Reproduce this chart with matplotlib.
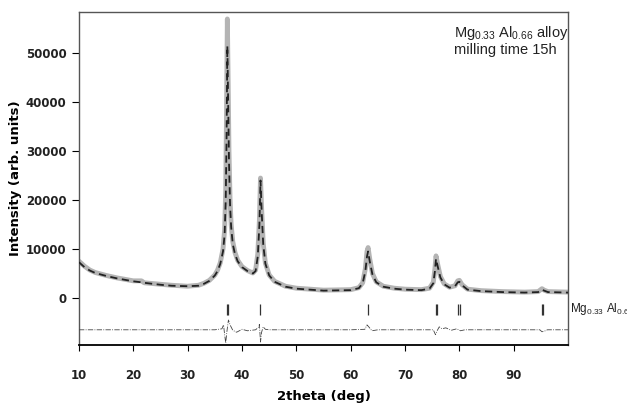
import numpy as np
import matplotlib.pyplot as plt

# ── data ────────────────────────────────────────────────────────────────────
two_theta = [10, 11, 12, 13, 15, 17, 20, 21.5, 22, 25, 27, 30, 32, 33, 34, 35,
             35.5, 36, 36.5, 36.8, 37.0, 37.15, 37.3, 37.45, 37.6, 37.8, 38.0,
             38.3, 38.7, 39.2, 40, 41, 42, 42.5, 42.9, 43.2, 43.4, 43.6, 43.9,
             44.3, 45, 46, 48, 50, 55, 60, 61.5, 62.2, 62.7, 63.0, 63.2, 63.5,
             64.0, 64.7, 66, 68, 70, 73, 74.5, 75.2, 75.5, 75.7, 76.0, 76.5,
             77.2, 78.2, 79.2, 79.7, 80.0, 80.5, 81.5, 84, 88, 92, 94.5, 95.2,
             95.6, 96.3, 100]
calc = [7300, 6300, 5600, 5100, 4500, 4000, 3400, 3200, 3100, 2700, 2500, 2400,
        2500, 2900, 3500, 4600, 5500, 7000, 9500, 13000, 20000, 32000, 51500,
        40000, 28000, 19000, 14500, 11000, 9000, 7500, 6300, 5500, 5000, 5500,
        8500, 15000, 24000, 18000, 11000, 7000, 4600, 3300, 2300, 1900, 1500,
        1600, 2000, 3000, 5500, 8500, 9500, 7500, 4800, 3200, 2300, 1900, 1700,
        1600, 1900, 3000, 5500, 8000, 6500, 4200, 2800, 2100, 2400, 3200, 3300,
        2600, 1700, 1400, 1200, 1100, 1200, 1700, 1500, 1200, 1100]
obs = [7500, 6500, 5700, 5200, 4600, 4100, 3500, 3500, 3100, 2800, 2600, 2400,
       2600, 3000, 3600, 4700, 5700, 7200, 10000, 14000, 22000, 38000, 57000,
       44000, 30000, 20000, 15000, 11500, 9300, 7700, 6400, 5600, 5100, 5700,
       9000, 16000, 24500, 18500, 11200, 7100, 4700, 3400, 2400, 2000, 1600,
       1700, 2100, 3100, 6000, 9500, 10300, 8000, 5000, 3300, 2400, 2000, 1800,
       1700, 2000, 3200, 6000, 8600, 6900, 4400, 2900, 2200, 2500, 3500, 3600,
       2700, 1800, 1500, 1300, 1200, 1300, 1900, 1600, 1300, 1200]

diff_x = [10, 20, 30, 35, 36.3, 36.6, 36.8, 37.0, 37.2, 37.5, 37.8, 38.3, 39,
          40, 41, 42.5, 43.0, 43.2, 43.4, 43.6, 43.9, 44.3, 45, 50, 60, 62.6,
          63.0, 63.4, 63.9, 65, 70, 75.2, 75.6, 75.9, 76.3, 76.8, 77.5, 78.5,
          79.5, 80.2, 81, 90, 94.8, 95.2, 95.6, 96.2, 100]
diff_y = [-6500, -6500, -6500, -6500, -6300, -5500, -7500, -9200, -7000, -4500,
          -5500, -6600, -7000, -6400, -6700, -6500, -6000, -5400, -9000, -7000,
          -5900, -6400, -6500, -6500, -6500, -6400, -5500, -6000, -6700, -6500,
          -6500, -6500, -7500, -6700, -5900, -6300, -6100, -6600, -6300, -6700,
          -6500, -6500, -6500, -6900, -6800, -6500, -6500]

bragg_pos = [37.2, 37.45, 43.4, 63.1, 75.65, 75.95, 79.8, 80.05, 95.15, 95.45]

yticks = [0, 10000, 20000, 30000, 40000, 50000]
xticks = [10, 20, 30, 40, 50, 60, 70, 80, 90]

plt.rcParams["font.family"] = ["Liberation Sans", "DejaVu Sans"]
plt.rcParams["mathtext.default"] = "regular"

fig = plt.figure(figsize=(6.27, 4.03), dpi=100)
ax = fig.add_axes([0.126, 0.144, 0.78, 0.826])

ax.plot(two_theta, obs, color="#b4b4b4", lw=3.5, solid_capstyle="round",
        solid_joinstyle="round", zorder=2)
ax.plot(two_theta, calc, color="#222222", lw=1.3, ls=(0, (4, 2.5)), zorder=3)
ax.plot(diff_x, diff_y, color="#444444", lw=0.6, ls="-.", zorder=3)
ax.vlines(bragg_pos, -3500, -1300, color="#333333", lw=0.9, zorder=3)

ax.set_xlim(10, 100)
ax.set_ylim(-9600, 58400)
ax.set_xticks(xticks)
ax.set_yticks(yticks)
ax.tick_params(axis="x", direction="out", length=4, pad=13, labelsize=8.5)
ax.tick_params(axis="y", direction="out", length=5, pad=4, labelsize=8.5)
for lab in ax.get_xticklabels() + ax.get_yticklabels():
    lab.set_fontweight("bold")
    lab.set_family("DejaVu Sans")
    lab.set_color("#222222")

for side in ["top", "right", "left"]:
    ax.spines[side].set_color("#555555")
    ax.spines[side].set_linewidth(1.0)
ax.spines["bottom"].set_linewidth(1.3)

ax.set_xlabel("2theta (deg)", fontsize=9.5, fontweight="bold",
              family="DejaVu Sans", labelpad=6)
ax.set_ylabel("Intensity (arb. units)", fontsize=9.5, fontweight="bold",
              family="DejaVu Sans", labelpad=3)

ax.text(0.766, 0.965, "Mg$_{0.33}$ Al$_{0.66}$ alloy\nmilling time 15h",
        transform=ax.transAxes, ha="left", va="top", fontsize=10.5,
        color="#222222", linespacing=1.1)
ax.text(100.3, -2300, "Mg$_{0.33}$ Al$_{0.66}$", ha="left", va="center",
        fontsize=8.5, color="#222222", clip_on=False)

fig.savefig("out.png", dpi=100)
